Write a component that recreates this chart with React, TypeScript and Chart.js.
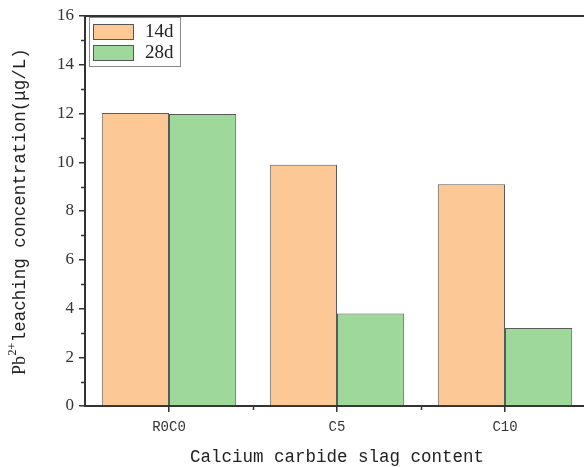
import React, { useEffect, useRef } from "react";
import { Chart, registerables } from "chart.js";

Chart.register(...registerables);

const categories = ["R0C0", "C5", "C10"];
const seriesNames = ["14d", "28d"];
const values14d = [12.02, 9.9, 9.1];
const values28d = [11.98, 3.8, 3.2];
const yTicks = [0, 2, 4, 6, 8, 10, 12, 14, 16];
const xTitle = "Calcium carbide slag content";
const yTitleLead = "Pb";
const yTitleSup = "2+";
const yTitleRest = "leaching concentration(\u03bcg/L)";

const fills = ["rgb(251,200,150)", "rgb(158,216,155)"];
const axisColor = "#333333";

const decorPlugin = {
  id: "decor",
  afterDraw(chart: any) {
    const { ctx, chartArea, scales } = chart;
    const x = scales.x;
    const y = scales.y;
    ctx.save();

    // top frame line
    ctx.strokeStyle = axisColor;
    ctx.lineWidth = 2;
    ctx.beginPath();
    ctx.moveTo(chartArea.left - 1, chartArea.top);
    ctx.lineTo(chartArea.right, chartArea.top);
    ctx.stroke();

    // minor ticks
    ctx.lineWidth = 1.5;
    ctx.beginPath();
    for (let i = 0; i < yTicks.length - 1; i++) {
      const v = (yTicks[i] + yTicks[i + 1]) / 2;
      const py = Math.round(y.getPixelForValue(v)) + 0.5;
      ctx.moveTo(chartArea.left - 4, py);
      ctx.lineTo(chartArea.left, py);
    }
    for (let i = 0; i < categories.length - 1; i++) {
      const px = Math.round((x.getPixelForValue(i) + x.getPixelForValue(i + 1)) / 2) + 0.5;
      ctx.moveTo(px, chartArea.bottom);
      ctx.lineTo(px, chartArea.bottom + 4);
    }
    ctx.stroke();

    // x axis title
    ctx.fillStyle = "#222";
    ctx.font = '17.5px "Liberation Mono", monospace';
    ctx.textAlign = "center";
    ctx.textBaseline = "middle";
    ctx.fillText(xTitle, (chartArea.left + chartArea.right) / 2, 457);

    // y axis title with superscript charge
    ctx.translate(25, 375);
    ctx.rotate(-Math.PI / 2);
    ctx.textAlign = "left";
    ctx.textBaseline = "alphabetic";
    ctx.font = '18px "Liberation Serif", serif';
    ctx.fillText(yTitleLead, 0, 0);
    let off = ctx.measureText(yTitleLead).width + 0.5;
    ctx.font = '12px "Liberation Serif", serif';
    ctx.fillText(yTitleSup, off, -9);
    off += ctx.measureText(yTitleSup).width + 0.5;
    ctx.font = '17.5px "Liberation Mono", monospace';
    ctx.fillText(yTitleRest, off, 0);
    ctx.setTransform(1, 0, 0, 1, 0, 0);

    // legend
    const lx = 89, ly = 17, lw = 91, lh = 49;
    ctx.fillStyle = "#fff";
    ctx.fillRect(lx, ly, lw, lh);
    ctx.strokeStyle = "#8a8a8a";
    ctx.lineWidth = 1;
    ctx.strokeRect(lx + 0.5, ly + 0.5, lw, lh);
    chart.data.datasets.forEach((ds: any, i: number) => {
      const sy = 24 + i * 21;
      ctx.fillStyle = ds.backgroundColor;
      ctx.fillRect(93, sy, 41, 15);
      ctx.strokeStyle = "#555";
      ctx.strokeRect(93.5, sy + 0.5, 40, 15);
      ctx.fillStyle = "#222";
      ctx.font = '19px "Liberation Serif", serif';
      ctx.textAlign = "left";
      ctx.textBaseline = "middle";
      ctx.fillText(ds.label, 145, sy + 8);
    });

    ctx.restore();
  },
};

export default function App() {
  const ref = useRef<HTMLCanvasElement | null>(null);

  useEffect(() => {
    if (!ref.current) return;
    const chart = new Chart(ref.current, {
      type: "bar",
      data: {
        labels: categories,
        datasets: [
          {
            label: seriesNames[0],
            data: values14d,
            backgroundColor: fills[0],
            borderColor: "#5a5a5a",
            borderWidth: 1,
            categoryPercentage: 0.8,
            barPercentage: 1,
          },
          {
            label: seriesNames[1],
            data: values28d,
            backgroundColor: fills[1],
            borderColor: "#5a5a5a",
            borderWidth: 1,
            categoryPercentage: 0.8,
            barPercentage: 1,
          },
        ],
      },
      options: {
        responsive: false,
        animation: false,
        layout: { padding: { top: 16, right: 11, left: 0, bottom: 0 } },
        plugins: { legend: { display: false }, tooltip: { enabled: false } },
        scales: {
          x: {
            grid: {
              display: true,
              drawOnChartArea: false,
              drawTicks: true,
              tickLength: 6,
              offset: false,
              color: axisColor,
              lineWidth: 1.5,
            },
            border: { display: true, color: axisColor, width: 2 },
            ticks: {
              color: "#333",
              padding: 7,
              font: { family: '"Liberation Mono", monospace', size: 14 },
            },
            afterFit(s: any) {
              s.height = 61;
            },
          },
          y: {
            min: 0,
            max: 16,
            afterBuildTicks(s: any) {
              s.ticks = yTicks.map((v) => ({ value: v }));
            },
            grid: {
              display: true,
              drawOnChartArea: false,
              drawTicks: true,
              tickLength: 6,
              color: axisColor,
              lineWidth: 1.5,
            },
            border: { display: true, color: axisColor, width: 2 },
            ticks: {
              color: "#333",
              padding: 5,
              font: { family: '"Liberation Serif", serif', size: 17 },
            },
            afterFit(s: any) {
              s.width = 85;
            },
          },
        },
      },
      plugins: [decorPlugin],
    });
    return () => chart.destroy();
  }, []);

  return (
    <div
      style={{
        position: "absolute",
        left: 0,
        top: 0,
        width: 584,
        height: 467,
        overflow: "hidden",
        background: "#fff",
      }}
    >
      <canvas ref={ref} width={600} height={467} style={{ display: "block" }} />
    </div>
  );
}
